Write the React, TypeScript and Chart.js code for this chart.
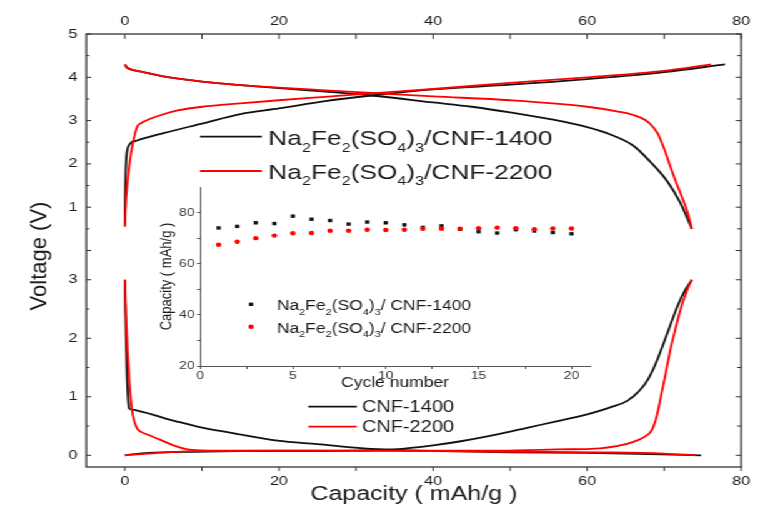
import React, { useEffect, useRef } from 'react';
import { Chart, registerables } from 'chart.js';

Chart.register(...registerables);

// ---------- data ----------
// Upper panel: Na2Fe2(SO4)3 cathode (capacity mAh/g, voltage V)
const cat1400ChargeCap = [0, 0.05, 0.15, 0.3, 0.6, 1.6, 5, 10, 15, 20, 26, 32, 40, 50, 60, 70, 77.9];
const cat1400ChargeV = [0.6, 1.3, 2.0, 2.3, 2.45, 2.54, 2.71, 2.93, 3.15, 3.28, 3.45, 3.58, 3.72, 3.83, 3.96, 4.12, 4.3];
const cat2200ChargeCap = [0, 0.1, 0.3, 0.6, 1.0, 1.6, 2.1, 3, 4.7, 7, 10, 15, 20, 26, 32, 40, 50, 60, 70, 76.1];
const cat2200ChargeV = [0.55, 1.0, 1.5, 2.0, 2.44, 2.86, 2.94, 3.02, 3.13, 3.24, 3.32, 3.4, 3.47, 3.55, 3.63, 3.73, 3.87, 4.0, 4.15, 4.3];
const cat1400DischargeCap = [0, 0.3, 1, 2.1, 5, 10, 15, 20, 26, 32, 40, 45, 50, 55, 60, 63, 66, 68.2, 70.4, 72.1, 73.6];
const cat1400DischargeV = [4.28, 4.22, 4.17, 4.13, 4.02, 3.9, 3.82, 3.75, 3.67, 3.58, 3.42, 3.32, 3.19, 3.04, 2.85, 2.68, 2.42, 2.05, 1.6, 1.1, 0.5];
const cat2200DischargeCap = [0, 0.3, 1, 2.1, 5, 10, 15, 20, 26, 32, 40, 50, 60, 64, 66, 67.5, 68.2, 69.1, 70, 70.8, 71.5, 72.3, 73, 73.6];
const cat2200DischargeV = [4.3, 4.23, 4.17, 4.13, 4.02, 3.9, 3.82, 3.76, 3.7, 3.64, 3.56, 3.47, 3.32, 3.21, 3.13, 3.02, 2.92, 2.72, 2.35, 1.94, 1.6, 1.24, 0.9, 0.5];

// Lower panel: CNF anode
const cnf1400DischargeCap = [0, 0.1, 0.25, 0.4, 0.56, 1.2, 2, 3.5, 5, 7, 9.4, 14, 19.8, 25, 31, 36, 42, 50, 60, 68, 74.8];
const cnf1400DischargeV = [3.0, 2.3, 1.5, 1.0, 0.8, 0.775, 0.75, 0.7, 0.64, 0.57, 0.49, 0.38, 0.25, 0.19, 0.12, 0.09, 0.07, 0.05, 0.04, 0.02, 0.0];
const cnf1400ChargeCap = [0, 3, 9, 15, 22, 30, 35, 40, 43.6, 48.8, 52.2, 56, 60, 63, 65.2, 66.9, 68, 69.1, 70.4, 71.7, 72.7, 73.6];
const cnf1400ChargeV = [0.0, 0.04, 0.06, 0.07, 0.07, 0.08, 0.1, 0.17, 0.24, 0.37, 0.47, 0.58, 0.7, 0.82, 0.93, 1.12, 1.32, 1.63, 2.08, 2.54, 2.82, 3.0];
const cnf2200DischargeCap = [0, 0.15, 0.35, 0.6, 0.87, 1.3, 1.65, 2.1, 3, 4.7, 6.5, 8.1, 10, 15, 25, 35, 50, 62, 70, 74.1];
const cnf2200DischargeV = [3.0, 2.4, 1.8, 1.25, 0.83, 0.55, 0.45, 0.4, 0.35, 0.26, 0.16, 0.1, 0.085, 0.08, 0.08, 0.075, 0.06, 0.05, 0.03, 0.0];
const cnf2200ChargeCap = [0, 3, 9, 20, 35, 48.8, 56, 61.7, 64, 66, 67.5, 68.4, 69, 69.5, 70.2, 70.8, 71.5, 72.1, 73, 73.6];
const cnf2200ChargeV = [0.0, 0.03, 0.07, 0.08, 0.08, 0.08, 0.1, 0.12, 0.16, 0.23, 0.32, 0.43, 0.65, 0.95, 1.4, 1.8, 2.18, 2.48, 2.83, 3.0];

// Inset: cycling
const cycles = [1, 2, 3, 4, 5, 6, 7, 8, 9, 10, 11, 12, 13, 14, 15, 16, 17, 18, 19, 20];
const cycle1400 = [74.0, 74.6, 76.0, 75.7, 78.6, 77.4, 76.9, 75.5, 76.3, 76.0, 75.2, 74.2, 74.8, 73.5, 72.5, 72.0, 73.3, 72.8, 72.2, 71.7];
const cycle2200 = [67.4, 68.6, 70.0, 71.0, 71.9, 72.0, 72.9, 72.9, 73.3, 73.2, 73.3, 73.7, 73.7, 73.7, 73.9, 74.1, 73.9, 73.5, 73.8, 73.8];

// tick labels
const capTicks = [0, 20, 40, 60, 80];
const upperVTicks = [1, 2, 3, 4, 5];
const lowerVTicks = [0, 1, 2, 3];
const insetXTicks = [0, 2.5, 5, 7.5, 10, 12.5, 15, 17.5, 20];
const insetYTicks = [20, 30, 40, 50, 60, 70, 80];

// ---------- styling ----------
const S = 1.25; // horizontal stretch of the original figure
const W = 617;
const H = 516;
const FONT = '"Liberation Sans", Arial, Helvetica, sans-serif';
const BLACK = '#111111';
const RED = '#ff0000';
const AXIS = '#333333';
const TEXT = '#1a1a1a';

type Part = { t: string; sub?: boolean };
const formula = (suffix: string): Part[] => [
  { t: 'Na' }, { t: '2', sub: true }, { t: 'Fe' }, { t: '2', sub: true },
  { t: '(SO' }, { t: '4', sub: true }, { t: ')' }, { t: '3', sub: true }, { t: suffix },
];

function drawRich(ctx: CanvasRenderingContext2D, parts: Part[], x: number, y: number, size: number) {
  let cx = x;
  ctx.textAlign = 'left';
  ctx.textBaseline = 'alphabetic';
  ctx.fillStyle = TEXT;
  for (const p of parts) {
    const fs = p.sub ? size * 0.62 : size;
    ctx.font = `${fs}px ${FONT}`;
    ctx.fillText(p.t, cx, p.sub ? y + size * 0.33 : y);
    cx += ctx.measureText(p.t).width;
  }
}

const pts = (xs: number[], ys: number[]) => xs.map((x, i) => ({ x, y: ys[i] }));

const line = (label: string, xs: number[], ys: number[], color: string, axis: string) => ({
  label,
  data: pts(xs, ys),
  yAxisID: axis,
  xAxisID: 'x',
  borderColor: color,
  backgroundColor: color,
  borderWidth: 1.8,
  pointRadius: 0,
  cubicInterpolationMode: 'monotone' as const,
  fill: false,
});

const mainPlugin = {
  id: 'mainDecor',
  afterDatasetsDraw(chart: any) {
    const { ctx, chartArea, scales } = chart;
    const { left, right, top, bottom } = chartArea;
    ctx.save();
    ctx.strokeStyle = AXIS;
    ctx.lineWidth = 1.3;
    ctx.strokeRect(left, top, right - left, bottom - top);
    ctx.lineWidth = 1;
    ctx.beginPath();
    for (let v = 0; v <= 80; v += 10) {
      const px = scales.x.getPixelForValue(v);
      ctx.moveTo(px, top);
      ctx.lineTo(px, top + 5);
      ctx.moveTo(px, bottom);
      ctx.lineTo(px, bottom + 4);
    }
    const yTicks = (sc: any, from: number, to: number) => {
      for (let v = from; v <= to + 1e-9; v += 0.5) {
        const py = sc.getPixelForValue(v);
        const major = Math.abs(v - Math.round(v)) < 1e-9;
        ctx.moveTo(left, py);
        ctx.lineTo(left + (major ? 4 : 2.4), py);
        ctx.moveTo(right, py);
        ctx.lineTo(right - (major ? 4.4 : 3.2), py);
      }
    };
    yTicks(scales.yTop, 0, 5);
    yTicks(scales.yBot, 0, 3.5);
    ctx.stroke();

    // y title
    ctx.save();
    ctx.translate(31.6, 256);
    ctx.rotate(-Math.PI / 2);
    ctx.scale(1, 0.85);
    ctx.font = `22px ${FONT}`;
    ctx.fillStyle = TEXT;
    ctx.textAlign = 'center';
    ctx.textBaseline = 'middle';
    ctx.fillText('Voltage (V)', 0, 0);
    ctx.restore();

    // upper legend
    const legUp = [
      { color: BLACK, y: 136.7, base: 145, text: formula('/CNF-1400') },
      { color: RED, y: 171, base: 178.5, text: formula('/CNF-2200') },
    ];
    for (const l of legUp) {
      ctx.strokeStyle = l.color;
      ctx.lineWidth = 1.8;
      ctx.beginPath();
      ctx.moveTo(160, l.y);
      ctx.lineTo(209.4, l.y);
      ctx.stroke();
      drawRich(ctx, l.text, 214.6, l.base, 21);
    }
    // lower legend
    const legLow = [
      { color: BLACK, y: 406.7, base: 411.7, text: 'CNF-1400' },
      { color: RED, y: 426.7, base: 431.5, text: 'CNF-2200' },
    ];
    for (const l of legLow) {
      ctx.strokeStyle = l.color;
      ctx.lineWidth = 1.8;
      ctx.beginPath();
      ctx.moveTo(246.6, l.y);
      ctx.lineTo(285.4, l.y);
      ctx.stroke();
      drawRich(ctx, [{ t: l.text }], 289.4, l.base, 16);
    }
    ctx.restore();
  },
};

const insetPlugin = {
  id: 'insetDecor',
  afterDatasetsDraw(chart: any) {
    const { ctx } = chart;
    ctx.save();
    ctx.fillStyle = BLACK;
    ctx.fillRect(76.8 - 1.7, 126.3 - 1.7, 3.4, 3.4);
    ctx.fillStyle = RED;
    ctx.beginPath();
    ctx.arc(76.8, 148.7, 2.2, 0, Math.PI * 2);
    ctx.fill();
    drawRich(ctx, formula('/ CNF-1400'), 97.4, 132, 14);
    drawRich(ctx, formula('/ CNF-2200'), 97.4, 154.5, 14);
    ctx.restore();
  },
};

export default function App() {
  const mainRef = useRef<HTMLCanvasElement>(null);
  const insetRef = useRef<HTMLCanvasElement>(null);

  useEffect(() => {
    const tickFont = { family: FONT, size: 13 };
    const main = new Chart(mainRef.current as HTMLCanvasElement, {
      type: 'line',
      data: {
        datasets: [
          line('Na2Fe2(SO4)3/CNF-2200 charge', cat2200ChargeCap, cat2200ChargeV, RED, 'yTop'),
          line('Na2Fe2(SO4)3/CNF-2200 discharge', cat2200DischargeCap, cat2200DischargeV, RED, 'yTop'),
          line('CNF-2200 discharge', cnf2200DischargeCap, cnf2200DischargeV, RED, 'yBot'),
          line('CNF-2200 charge', cnf2200ChargeCap, cnf2200ChargeV, RED, 'yBot'),
          line('Na2Fe2(SO4)3/CNF-1400 charge', cat1400ChargeCap, cat1400ChargeV, BLACK, 'yTop'),
          line('Na2Fe2(SO4)3/CNF-1400 discharge', cat1400DischargeCap, cat1400DischargeV, BLACK, 'yTop'),
          line('CNF-1400 discharge', cnf1400DischargeCap, cnf1400DischargeV, BLACK, 'yBot'),
          line('CNF-1400 charge', cnf1400ChargeCap, cnf1400ChargeV, BLACK, 'yBot'),
        ],
      },
      options: {
        responsive: false,
        animation: false,
        events: [],
        layout: { padding: { left: 0, right: 24, top: 0, bottom: 0 } },
        plugins: { legend: { display: false }, tooltip: { enabled: false } },
        scales: {
          x: {
            type: 'linear', position: 'bottom', min: -5, max: 80,
            afterBuildTicks: (s: any) => { s.ticks = capTicks.map((v) => ({ value: v })); },
            afterFit: (s: any) => { s.height = 49; },
            grid: { display: false, drawTicks: false },
            border: { display: false },
            ticks: { font: tickFont, color: TEXT, padding: 7, maxRotation: 0, autoSkip: false },
            title: { display: true, text: 'Capacity ( mAh/g )', color: TEXT, font: { family: FONT, size: 20 }, padding: { top: 0, bottom: 10 } },
          },
          xTop: {
            type: 'linear', position: 'top', min: -5, max: 80,
            afterBuildTicks: (s: any) => { s.ticks = capTicks.map((v) => ({ value: v })); },
            afterFit: (s: any) => { s.height = 34; },
            grid: { display: false, drawTicks: false },
            border: { display: false },
            ticks: { font: tickFont, color: TEXT, padding: 5, maxRotation: 0, autoSkip: false },
          },
          yBot: {
            type: 'linear', position: 'left', stack: 'v', stackWeight: 1, min: -0.2, max: 3.5,
            afterBuildTicks: (s: any) => { s.ticks = lowerVTicks.map((v) => ({ value: v })); },
            afterFit: (s: any) => { s.width = 69; },
            grid: { display: false, drawTicks: false },
            border: { display: false },
            ticks: { font: tickFont, color: TEXT, padding: 7, autoSkip: false },
          },
          yTop: {
            type: 'linear', position: 'left', stack: 'v', stackWeight: 1, min: 0, max: 5,
            afterBuildTicks: (s: any) => { s.ticks = upperVTicks.map((v) => ({ value: v })); },
            afterFit: (s: any) => { s.width = 69; },
            grid: { display: false, drawTicks: false },
            border: { display: false },
            ticks: { font: tickFont, color: TEXT, padding: 7, autoSkip: false },
          },
        },
      } as any,
      plugins: [mainPlugin],
    });

    const insetTick = { family: FONT, size: 11 };
    const inset = new Chart(insetRef.current as HTMLCanvasElement, {
      type: 'scatter',
      data: {
        datasets: [
          {
            label: 'Na2Fe2(SO4)3/ CNF-2200',
            data: pts(cycles, cycle2200),
            pointStyle: 'circle', pointRadius: 2.2, borderWidth: 0,
            backgroundColor: RED, borderColor: RED,
          },
          {
            label: 'Na2Fe2(SO4)3/ CNF-1400',
            data: pts(cycles, cycle1400),
            pointStyle: 'rect', pointRadius: 2.4, borderWidth: 0,
            backgroundColor: BLACK, borderColor: BLACK,
          },
        ],
      },
      options: {
        responsive: false,
        animation: false,
        events: [],
        layout: { padding: { left: 0, right: 16, top: 9, bottom: 0 } },
        plugins: { legend: { display: false }, tooltip: { enabled: false } },
        scales: {
          x: {
            type: 'linear', min: 0, max: 21,
            afterBuildTicks: (s: any) => { s.ticks = insetXTicks.map((v) => ({ value: v })); },
            afterFit: (s: any) => { s.height = 34; },
            grid: { drawOnChartArea: false, drawTicks: true, tickLength: 3, color: '#555' },
            border: { display: true, color: '#555', width: 1 },
            ticks: { font: insetTick, color: '#333', padding: 0, maxRotation: 0, autoSkip: false,
              callback: (v: any) => (Number(v) % 5 === 0 ? String(v) : '') },
            title: { display: true, text: 'Cycle number', color: TEXT, font: { family: FONT, size: 14 }, padding: { top: 0, bottom: 8 } },
          },
          y: {
            type: 'linear', min: 20, max: 90,
            afterBuildTicks: (s: any) => { s.ticks = insetYTicks.map((v) => ({ value: v })); },
            afterFit: (s: any) => { s.width = 36; },
            grid: { drawOnChartArea: false, drawTicks: true, tickLength: 2.4, color: '#555' },
            border: { display: true, color: '#555', width: 1 },
            ticks: { font: insetTick, color: '#333', padding: 2, autoSkip: false,
              callback: (v: any) => (Number(v) % 20 === 0 ? String(v) : '') },
            title: { display: true, text: 'Capacity ( mAh/g )', color: TEXT, font: { family: FONT, size: 13 }, padding: { top: 2, bottom: 0 } },
          },
        },
      } as any,
      plugins: [insetPlugin],
    });

    return () => {
      main.destroy();
      inset.destroy();
    };
  }, []);

  return (
    <div
      style={{
        position: 'fixed', left: 0, top: 0, width: W, height: H,
        transform: `scaleX(${S})`, transformOrigin: '0 0', background: '#fff',
      }}
    >
      <canvas ref={mainRef} width={W} height={H}
        style={{ position: 'absolute', left: 0, top: 0, width: W, height: H }} />
      <canvas ref={insetRef} width={364} height={222}
        style={{ position: 'absolute', left: 124, top: 178, width: 364, height: 222 }} />
    </div>
  );
}
